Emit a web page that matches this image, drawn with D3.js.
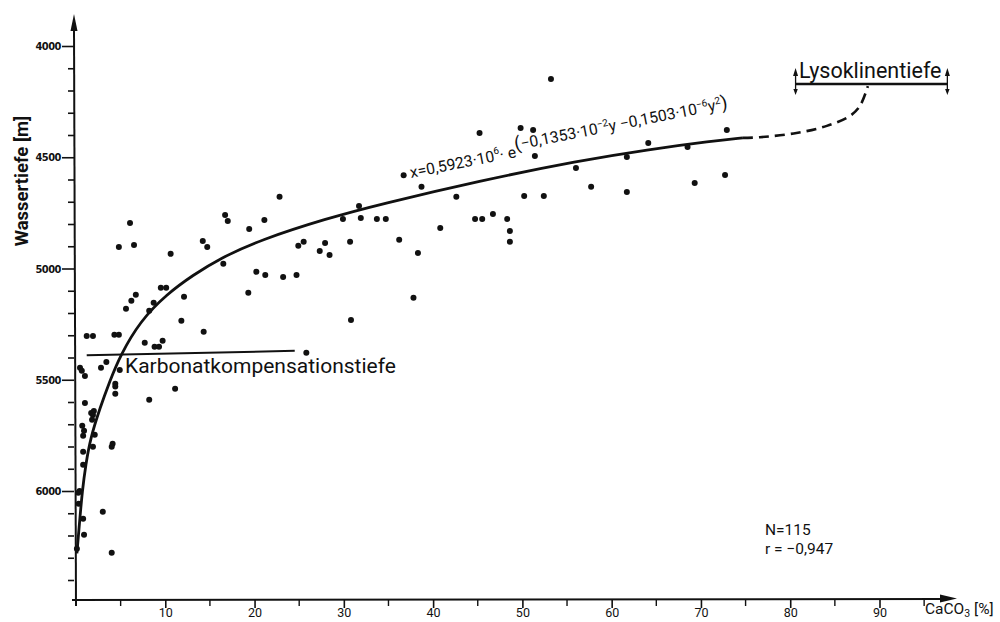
<!DOCTYPE html>
<html>
<head>
<meta charset="utf-8">
<script src="https://cdn.jsdelivr.net/npm/d3@7"></script>
<style>
body { margin: 0; background: #fff; }
text { fill: #111; }
</style>
</head>
<body>
<div class="center"></div>
<script>
// samples: CaCO3 [%] and water depth [m]
const caco3 = [
  6.05, 4.8, 6.5, 10.6, 5.6, 6.2, 6.7, 8.2, 8.7, 9.5,
  10.1, 12.1, 11.8, 1.2, 1.9, 4.3, 4.8, 7.7, 8.8, 9.3,
  9.7, 0.45, 0.65, 1.0, 2.8, 3.4, 4.9, 4.4, 4.4, 4.4,
  8.2, 11.1, 1.0, 1.7, 2.0, 1.9, 1.8, 0.7, 0.9, 0.8,
  2.1, 0.8, 1.9, 4.1, 4.0, 0.8, 0.4, 3.0, 0.8, 0.9,
  4.0, 14.2, 14.7, 16.7, 17.0, 19.4, 21.1, 16.5, 20.2, 21.2,
  19.3, 23.2, 24.7, 24.9, 25.5, 27.3, 27.9, 28.4, 29.9, 30.7,
  31.7, 31.9, 33.7, 34.7, 36.2, 30.8, 14.3, 25.8, 36.7, 38.7,
  38.3, 37.8, 40.8, 42.6, 44.7, 45.5, 46.7, 48.3, 48.6, 48.6,
  50.2, 52.4, 51.4, 56.0, 22.8, 45.2, 49.8, 51.2, 53.2, 57.7,
  61.7, 61.7, 64.1, 68.5, 69.3, 72.7, 72.9, 0.25, 0.3, 0.1
];
const depth = [
  4795, 4903, 4894, 4934, 5181, 5145, 5118, 5190, 5154, 5087,
  5087, 5127, 5235, 5303, 5303, 5298, 5298, 5334, 5352, 5352,
  5325, 5446, 5460, 5483, 5446, 5420, 5456, 5518, 5530, 5563,
  5590, 5541, 5604, 5649, 5640, 5658, 5680, 5707, 5729, 5752,
  5747, 5824, 5801, 5788, 5801, 5882, 6000, 6093, 6125, 6197,
  6277, 4876, 4903, 4759, 4786, 4822, 4782, 4979, 5015, 5029,
  5109, 5038, 5029, 4898, 4880, 4921, 4885, 4939, 4777, 4880,
  4719, 4773, 4777, 4777, 4871, 5231, 5284, 5379, 4581, 4633,
  4930, 5132, 4818, 4678, 4777, 4777, 4755, 4777, 4831, 4880,
  4674, 4674, 4494, 4548, 4678, 4391, 4368, 4377, 4148, 4633,
  4499, 4656, 4436, 4454, 4616, 4580, 4377, 6008, 6057, 6260
];

// fitted curve
const fitX     = [0.1, 0.4, 0.7, 1.1, 1.6, 2.7, 3.8, 4.9, 7.2, 10.2, 13.1, 16.1, 20.6, 28.1, 34.0, 45.2, 56.4, 64.0, 71.3, 74.7];
const fitDepth = [6280, 6140, 6000, 5880, 5765, 5625, 5505, 5395, 5235, 5114, 5030, 4955, 4872, 4775, 4712, 4606, 4515, 4466, 4427, 4413];
// dashed extension up to the lysocline
const extX     = [74.7, 76.6, 80.7, 84.1, 86.7, 87.8, 88.7];
const extDepth = [4413, 4410, 4391, 4359, 4314, 4270, 4180];

const ccdX = [1.2, 24.5], ccdDepth = [5390, 5370];
const lysoX = [80.6, 97.6], lysoDepth = 4171;

const xTickLabels = [10, 20, 30, 40, 50, 60, 70, 80, 90];
const xMinor = [5, 15, 25, 35, 45, 55, 65, 75, 85, 95];
const yTickLabels = [4000, 4500, 5000, 5500, 6000];

const w = 1000, h = 622;
const font = "Roboto, 'Liberation Sans', sans-serif";

const svg = d3.select(".center")
    .append("svg")
    .attr("width", w)
    .attr("height", h)
    .style("font-family", font);

const xScale = d3.scaleLinear().domain([0, 90]).range([76, 879.5]);
const yScale = d3.scaleLinear().domain([4000, 6000]).range([46, 491]);
const axisY = 600, axisX = 74;

// x axis
const xAxis = d3.axisBottom(xScale).tickValues(xTickLabels).tickSize(8).tickSizeOuter(0);
const gx = svg.append("g").attr("transform", `translate(0,${axisY})`).call(xAxis);
gx.select(".domain").remove();
gx.selectAll(".tick line").attr("stroke", "#111").attr("stroke-width", 1.6);
gx.selectAll(".tick text").attr("y", 17).attr("dy", 0)
    .style("font-family", font).style("font-size", "12.5px").attr("fill", "#111");
gx.selectAll(".minor").data(xMinor).enter().append("line")
    .attr("x1", d => xScale(d)).attr("x2", d => xScale(d))
    .attr("y1", 0).attr("y2", 6)
    .attr("stroke", "#111").attr("stroke-width", 1.4);
svg.append("line").attr("x1", axisX - 2).attr("x2", 945).attr("y1", axisY).attr("y2", axisY - 1)
    .attr("stroke", "#111").attr("stroke-width", 2);
svg.append("path").attr("d", `M957,${axisY - 1.5} L940,${axisY - 5.5} L940,${axisY + 2.5} Z`).attr("fill", "#111");

// y axis
const yAll = d3.range(4000, 6500, 100);
const yAxis = d3.axisLeft(yScale).tickValues(yAll).tickSize(5).tickSizeOuter(0)
    .tickFormat(d => yTickLabels.includes(d) ? d : "");
const gy = svg.append("g").attr("transform", `translate(${axisX},0)`).call(yAxis);
gy.select(".domain").remove();
gy.selectAll(".tick line").attr("stroke", "#111").attr("stroke-width", 1.6)
    .attr("x2", d => yTickLabels.includes(d) ? -12 : -6);
gy.selectAll(".tick text").attr("x", -13)
    .style("font-family", "'DejaVu Sans Condensed', sans-serif")
    .style("font-size", "11px").style("font-weight", "bold").style("letter-spacing", "-0.5px");
svg.append("line").attr("x1", axisX).attr("x2", axisX + 2).attr("y1", 28).attr("y2", axisY + 6)
    .attr("stroke", "#111").attr("stroke-width", 2);
svg.append("path").attr("d", `M${axisX},14 L${axisX - 3.5},31 L${axisX + 3.5},31 Z`).attr("fill", "#111");

svg.append("text")
    .attr("transform", "translate(28,181) rotate(-90)")
    .attr("text-anchor", "middle")
    .attr("font-size", 18.5).attr("font-weight", "bold")
    .text("Wassertiefe [m]");

const xlab = svg.append("text").attr("x", 925).attr("y", 614).attr("font-size", 15.5);
xlab.append("tspan").text("CaCO");
xlab.append("tspan").attr("font-size", 10.5).attr("dy", 3).text("3");
xlab.append("tspan").attr("dy", -3).text(" [%]");

// points
svg.selectAll("circle.pt")
    .data(d3.zip(caco3, depth))
    .enter()
    .append("circle")
    .attr("class", "pt")
    .attr("cx", d => xScale(d[0]))
    .attr("cy", d => yScale(d[1]))
    .attr("r", 3)
    .attr("fill", "#111");

const line = d3.line()
    .x(d => xScale(d[0]))
    .y(d => yScale(d[1]))
    .curve(d3.curveBasis);

svg.append("path").datum(d3.zip(fitX, fitDepth))
    .attr("d", line).attr("fill", "none").attr("stroke", "#111").attr("stroke-width", 2.8);
svg.append("path").datum(d3.zip(extX, extDepth))
    .attr("d", line.curve(d3.curveCatmullRom.alpha(0.5))).attr("fill", "none").attr("stroke", "#111").attr("stroke-width", 2.6)
    .attr("stroke-dasharray", "10,6");

// Karbonatkompensationstiefe
svg.append("line")
    .attr("x1", xScale(ccdX[0])).attr("x2", xScale(ccdX[1]))
    .attr("y1", yScale(ccdDepth[0])).attr("y2", yScale(ccdDepth[1]))
    .attr("stroke", "#111").attr("stroke-width", 2);
svg.append("text").attr("x", 125).attr("y", 373).attr("font-size", 21)
    .text("Karbonatkompensationstiefe");

// Lysoklinentiefe
const ly = yScale(lysoDepth);
svg.append("line")
    .attr("x1", xScale(lysoX[0])).attr("x2", xScale(lysoX[1]))
    .attr("y1", ly).attr("y2", ly)
    .attr("stroke", "#111").attr("stroke-width", 2.4);
lysoX.forEach(v => {
    const x = xScale(v);
    svg.append("line").attr("x1", x).attr("x2", x).attr("y1", ly - 12).attr("y2", ly + 8)
        .attr("stroke", "#111").attr("stroke-width", 1.3);
    svg.append("path").attr("d", `M${x},${ly - 16} L${x - 2.5},${ly - 8} L${x + 2.5},${ly - 8} Z`).attr("fill", "#111");
    svg.append("path").attr("d", `M${x},${ly + 11} L${x - 2.2},${ly + 5} L${x + 2.2},${ly + 5} Z`).attr("fill", "#111");
});
svg.append("text").attr("x", 799).attr("y", 78).attr("font-size", 21.5)
    .text("Lysoklinentiefe");

// equation
const eq = svg.append("text")
    .attr("transform", "translate(411,178) rotate(-11.2)")
    .attr("font-size", 15.8);
eq.append("tspan").text("x=0,5923·10");
eq.append("tspan").attr("font-size", 10).attr("dy", -7).text("6");
eq.append("tspan").attr("dy", 7).text("· e");
eq.append("tspan").attr("dy", -7).attr("font-size", 18.5).text("(");
eq.append("tspan").text("−0,1353·10");
eq.append("tspan").attr("font-size", 10).attr("dy", -6).text("−2");
eq.append("tspan").attr("dy", 6).text("y −0,1503·10");
eq.append("tspan").attr("font-size", 10).attr("dy", -6).text("−6");
eq.append("tspan").attr("dy", 6).text("y");
eq.append("tspan").attr("font-size", 10).attr("dy", -6).text("2");
eq.append("tspan").attr("dy", 6).attr("font-size", 18.5).text(")");

// stats
svg.append("text").attr("x", 765).attr("y", 535).attr("font-size", 15.5).text("N=115");
svg.append("text").attr("x", 765).attr("y", 554).attr("font-size", 15.5).text("r = −0,947");
</script>
</body>
</html>
